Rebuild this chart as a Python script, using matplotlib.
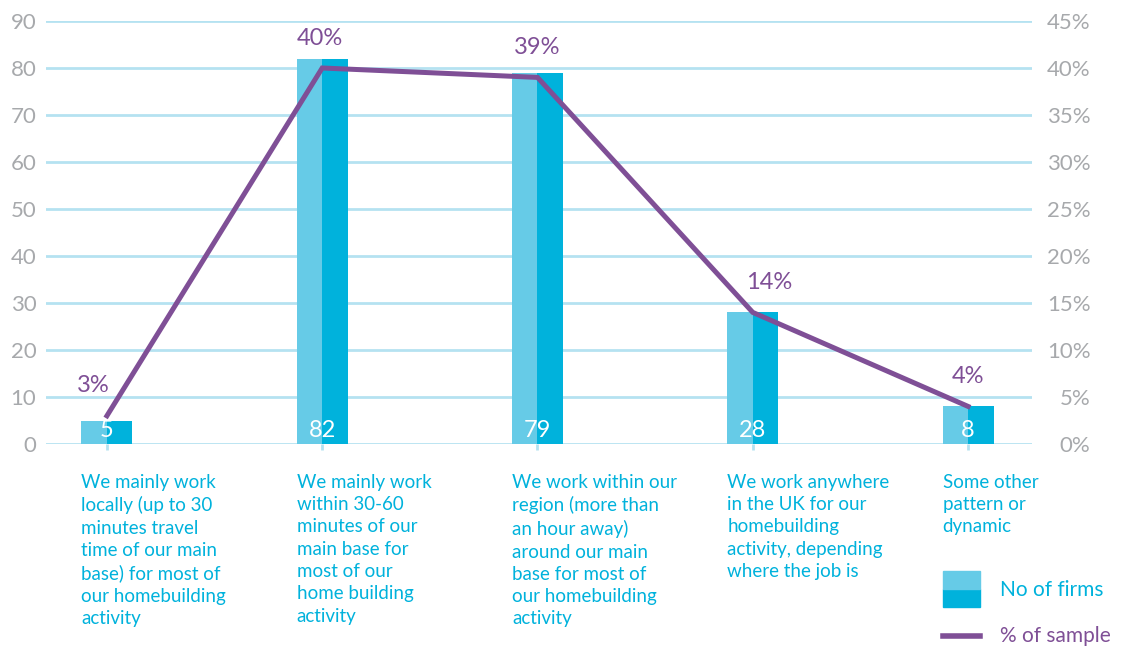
import matplotlib.pyplot as plt
from matplotlib.patches import Rectangle
from matplotlib.lines import Line2D

# data
categories = [
    "We mainly work\nlocally (up to 30\nminutes travel\ntime of our main\nbase) for most of\nour homebuilding\nactivity",
    "We mainly work\nwithin 30-60\nminutes of our\nmain base for\nmost of our\nhome building\nactivity",
    "We work within our\nregion (more than\nan hour away)\naround our main\nbase for most of\nour homebuilding\nactivity",
    "We work anywhere\nin the UK for our\nhomebuilding\nactivity, depending\nwhere the job is",
    "Some other\npattern or\ndynamic",
]
firms = [5, 82, 79, 28, 8]
pct_sample = [3, 40, 39, 14, 4]
left_ticks = list(range(0, 100, 10))
right_ticks = list(range(0, 50, 5))

# colours
light_blue = '#66CBE7'
dark_blue = '#00B2DC'
purple = '#7F4F96'
grid_col = '#B5E2F1'
grey = '#A7A9AC'

plt.rcParams['font.family'] = ['Lato', 'DejaVu Sans']

fig = plt.figure(figsize=(11.23, 6.49), dpi=100)
ax = fig.add_axes([46 / 1123, 1 - 444 / 649, (1032 - 46) / 1123, (444 - 21) / 649])
ax2 = ax.twinx()

x = list(range(len(firms)))
w = 0.237

# two-tone bars: lighter left half, darker right half
ax.bar(x, firms, width=-w / 2, align='edge', color=light_blue, zorder=2)
ax.bar(x, firms, width=w / 2, align='edge', color=dark_blue, zorder=2)

for xi, v in zip(x, firms):
    ax.text(xi, 0.6, str(v), ha='center', va='bottom', color='white',
            fontsize=17, zorder=3)

ax.set_xlim(-0.283, 4.297)
ax.set_ylim(0, 90)
ax.set_yticks(left_ticks)
ax.set_xticks(x)
ax.set_xticklabels([])
ax.tick_params(axis='x', length=4, width=2, color=grid_col)
ax.tick_params(axis='y', length=0, pad=7, labelsize=16, labelcolor=grey)
ax.grid(axis='y', color=grid_col, linewidth=2, zorder=0)
ax.set_axisbelow(True)
for s in ax.spines.values():
    s.set_visible(False)

# percentage line on the right axis
ax2.plot(x, pct_sample, color=purple, linewidth=3.6, solid_joinstyle='miter', zorder=4)
ax2.set_ylim(0, 45)
ax2.set_yticks(right_ticks)
ax2.set_yticklabels([f'{t}%' for t in right_ticks], ha='right')
ax2.tick_params(axis='y', length=0, pad=42, labelsize=16, labelcolor=grey)
for s in ax2.spines.values():
    s.set_visible(False)

label_dx = [-10, -2, 0, 12, 0]
for xi, p, dx in zip(x, pct_sample, label_dx):
    ax2.annotate(f'{p}%', (xi, p), xytext=(dx, 14), textcoords='offset points',
                 ha='center', va='bottom', color=purple, fontsize=17)

# category labels under the bars
for xi, txt in zip(x, categories):
    ax.text(xi - w / 2, -6.3, txt, ha='left', va='top', color=dark_blue,
            fontsize=13.5, linespacing=1.38, clip_on=False)

# legend
fig.add_artist(Rectangle((943 / 1123, 1 - 607 / 649), 37 / 1123, 18 / 649,
                         color=dark_blue, transform=fig.transFigure))
fig.add_artist(Rectangle((943 / 1123, 1 - 589 / 649), 37 / 1123, 18 / 649,
                         color=light_blue, transform=fig.transFigure))
fig.text(1000 / 1123, 1 - 590 / 649, 'No of firms', color=dark_blue,
         fontsize=15, va='center', ha='left')
fig.add_artist(Line2D([943 / 1123, 980 / 1123], [1 - 636 / 649] * 2,
                      color=purple, linewidth=4, transform=fig.transFigure))
fig.text(1000 / 1123, 1 - 636 / 649, '% of sample', color=purple,
         fontsize=15, va='center', ha='left')

fig.savefig('out.png', dpi=100)
